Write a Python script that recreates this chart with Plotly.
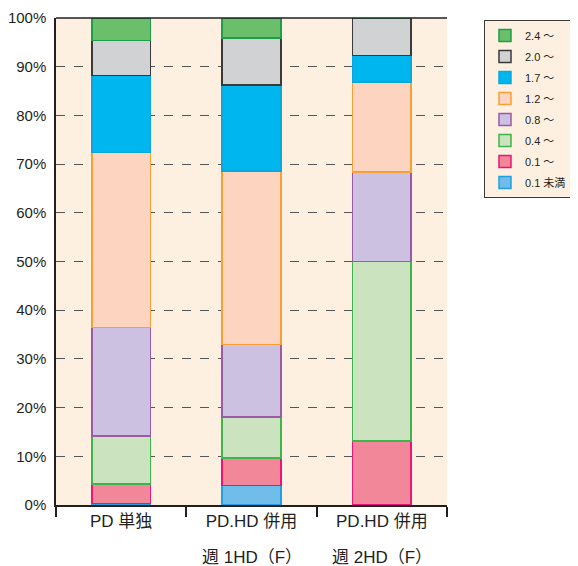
import plotly.graph_objects as go

categories = ["PD 単独", "PD.HD 併用 週 1HD（F）", "PD.HD 併用 週 2HD（F）"]
label_line1 = ["PD 単独", "PD.HD 併用", "PD.HD 併用"]
label_line2 = ["", "週 1HD（F）", "週 2HD（F）"]
series_names = ["0.1 未満", "0.1 〜", "0.4 〜", "0.8 〜", "1.2 〜", "1.7 〜", "2.0 〜", "2.4 〜"]

v_lt01 = [0.3, 4.0, 0.0]
v_01 = [4.0, 5.7, 13.1]
v_04 = [9.9, 8.4, 36.9]
v_08 = [22.3, 14.9, 18.4]
v_12 = [35.9, 35.6, 18.5]
v_17 = [15.8, 17.6, 5.4]
v_20 = [7.2, 9.7, 7.7]
v_24 = [4.6, 4.1, 0.0]

series_values = [v_lt01, v_01, v_04, v_08, v_12, v_17, v_20, v_24]

fills = ["#6FBDE8", "#F2879A", "#CBE4BF", "#CCC1E0", "#FCD4C0", "#00B6EE", "#D1D2D4", "#6BBF6A"]
lines = ["#1FA0E2", "#E8167C", "#3DB54A", "#9B59A8", "#F7A035", "#0AA6DD", "#3A3A3A", "#1E9E48"]

FONT = "Liberation Sans Narrow, Liberation Sans, Noto Sans CJK JP"
TXT = "#231F20"

fig = go.Figure()
n = len(series_names)
for i, (name, vals, fc, lc) in enumerate(zip(series_names, series_values, fills, lines)):
    fig.add_trace(go.Bar(
        x=categories, y=vals, name=name, legendgroup=f"g{i}",
        legendrank=n - i,
        marker=dict(color=fc, line=dict(color=lc, width=1.5)),
        width=0.45,
    ))

for cat, l2 in zip(categories, label_line2):
    if l2:
        fig.add_annotation(x=cat, xref="x", y=0, yref="paper", yanchor="middle",
                           yshift=-52, text=l2, showarrow=False,
                           font=dict(size=17, family=FONT, color=TXT))

fig.update_layout(
    barmode="stack",
    width=570, height=558,
    margin=dict(l=48, r=131, t=10, b=61, autoexpand=False),
    paper_bgcolor="white",
    plot_bgcolor="#FDF0E1",
    font=dict(family=FONT, color=TXT, size=16),
    showlegend=True,
    legend=dict(
        x=1.0946, y=0.996, xanchor="left", yanchor="top",
        traceorder="grouped", tracegroupgap=2,
        bgcolor="#FDF0E1", bordercolor="#3A3A3A", borderwidth=1,
        font=dict(size=11, family=FONT, color=TXT),
        itemwidth=30,
    ),
    xaxis=dict(
        type="category",
        tickson="boundaries",
        tickvals=categories, ticktext=label_line1,
        ticks="outside", ticklen=10, tickcolor=TXT, tickwidth=1.5,
        showline=True, linecolor=TXT, linewidth=1.5,
        showgrid=False, automargin=False,
        tickfont=dict(size=17),
    ),
    yaxis=dict(
        range=[0, 100],
        tickvals=[0, 10, 20, 30, 40, 50, 60, 70, 80, 90, 100],
        ticktext=[f"{v}%" for v in range(0, 101, 10)],
        showline=True, linecolor=TXT, linewidth=1.5,
        showgrid=True, gridcolor="#555555", griddash="dash", gridwidth=1,
        zeroline=False, automargin=False,
        ticks="", ticklabelstandoff=5,
        tickfont=dict(size=15),
    ),
)

fig.add_shape(type="line", xref="paper", yref="paper", x0=0, x1=1, y0=1, y1=1,
              line=dict(color=TXT, width=1.5))

fig.write_html("out.html")
